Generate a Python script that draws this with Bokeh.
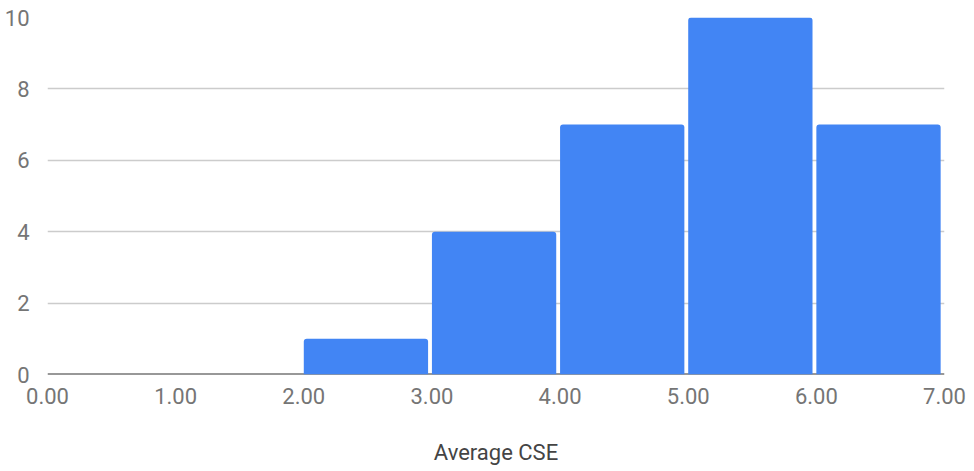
from bokeh.plotting import figure
from bokeh.models import FixedTicker, NumeralTickFormatter, Span, Range1d
from bokeh.embed import file_html
from bokeh.resources import INLINE

# Histogram of average CSE scores (bin width 1.0)
bin_lo = [0.0, 1.0, 2.0, 3.0, 4.0, 5.0, 6.0]
bin_hi = [1.0, 2.0, 3.0, 4.0, 5.0, 6.0, 7.0]
counts = [0, 0, 1, 4, 7, 10, 7]
x_ticks = [0, 1, 2, 3, 4, 5, 6, 7]
y_ticks = [0, 2, 4, 6, 8, 10]

BAR_GAP = 0.03  # white gap at the right side of each bar, in data units
FONT = "Roboto"

p = figure(
    width=974, height=471,
    output_backend="svg", toolbar_location=None,
    x_range=Range1d(bin_lo[0], bin_hi[-1]),
    y_range=Range1d(0, 10),
    min_border_left=47, min_border_right=30,
    min_border_top=17, min_border_bottom=97,
)
p.outline_line_color = None
p.background_fill_color = "white"
p.border_fill_color = "white"

# grid
p.xgrid.grid_line_color = None
p.ygrid.grid_line_color = "#cccccc"
p.ygrid.grid_line_width = 1.5
p.ygrid.ticker = FixedTicker(ticks=y_ticks)

# baseline below the bars
p.add_layout(Span(location=0, dimension="width", line_color="#333333",
                  line_width=2, level="underlay"))

p.quad(left=bin_lo, right=[h - BAR_GAP for h in bin_hi],
       bottom=0, top=counts,
       fill_color="#4285f4", line_color=None,
       border_radius=(3, 3, 0, 0))

# axes
p.xaxis.ticker = FixedTicker(ticks=x_ticks)
p.xaxis.formatter = NumeralTickFormatter(format="0.00")
p.yaxis.ticker = FixedTicker(ticks=y_ticks)
for ax in (p.xaxis[0], p.yaxis[0]):
    ax.axis_line_color = None
    ax.major_tick_line_color = None
    ax.minor_tick_line_color = None
    ax.major_label_text_font = FONT
    ax.major_label_text_font_size = "22px"
    ax.major_label_text_color = "#757575"
p.yaxis.major_label_standoff = 12
p.xaxis.major_label_standoff = 7

p.xaxis.axis_label = "Average CSE"
p.xaxis.axis_label_text_font = FONT
p.xaxis.axis_label_text_font_size = "22px"
p.xaxis.axis_label_text_font_style = "normal"
p.xaxis.axis_label_text_color = "#444444"
p.xaxis.axis_label_standoff = 33

open("out.html", "w").write(file_html(p, INLINE))
